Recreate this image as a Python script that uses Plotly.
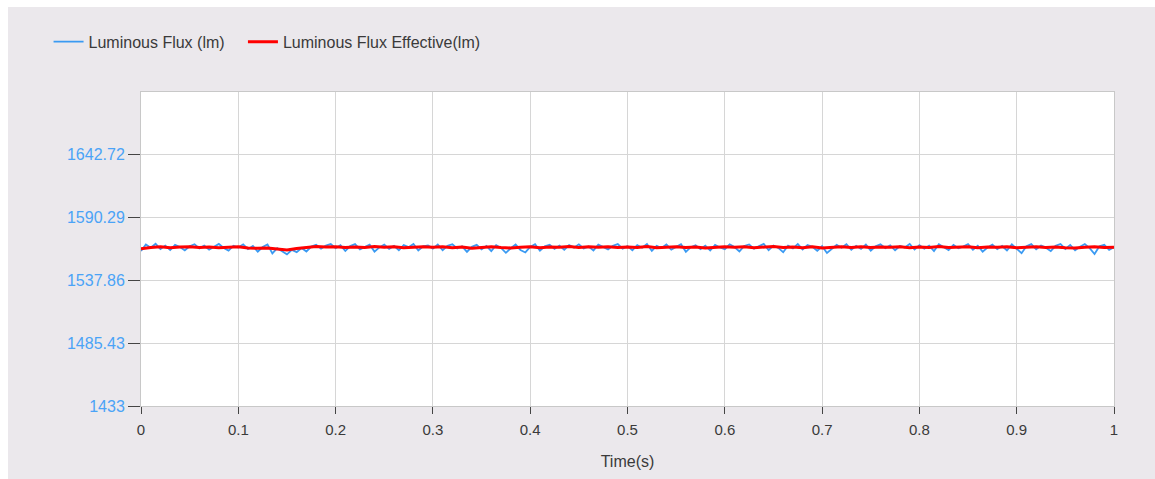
import numpy as np
import plotly.graph_objects as go

# ---- data ----
flux = [
    1562.5, 1567.8, 1565.1, 1568.4, 1564.0, 1566.9, 1563.2, 1567.5, 1565.8, 1562.9, 1566.4, 1568.1, 1564.6, 1567.0, 1563.5, 1566.2, 1568.3, 1564.9, 1562.7, 1566.8,
    1565.3, 1568.0, 1563.9, 1566.6, 1561.8, 1565.7, 1567.9, 1560.4, 1564.8, 1562.2, 1559.6, 1563.4, 1561.5, 1564.9, 1562.0, 1566.1, 1567.6, 1564.3, 1566.9, 1568.2,
    1564.7, 1567.3, 1562.4, 1566.5, 1568.1, 1563.8, 1566.0, 1567.7, 1561.9, 1565.4, 1567.8, 1564.2, 1566.7, 1563.0, 1567.4, 1565.6, 1568.3, 1562.8, 1566.3, 1567.1,
    1564.4, 1567.9, 1563.1, 1566.8, 1568.0, 1564.5, 1566.2, 1561.6, 1565.9, 1567.5, 1563.7, 1566.6, 1562.3, 1567.2, 1565.0, 1560.9, 1564.7, 1567.8, 1563.3, 1561.2,
    1565.8, 1568.1, 1562.6, 1566.4, 1567.6, 1564.1, 1566.9, 1563.5, 1567.3, 1565.2, 1568.0, 1564.6, 1566.1, 1562.9, 1567.7, 1565.5, 1563.8, 1566.8, 1568.2, 1564.3,
    1566.5, 1563.0, 1567.4, 1565.1, 1568.3, 1562.5, 1566.7, 1564.9, 1567.8, 1563.6, 1566.0, 1568.1, 1561.7, 1565.6, 1567.2, 1564.0, 1566.9, 1562.8, 1567.5, 1565.3,
    1563.9, 1568.0, 1565.7, 1562.1, 1566.6, 1567.9, 1564.4, 1566.2, 1568.4, 1563.2, 1567.0, 1565.0, 1561.4, 1566.8, 1564.6, 1568.2, 1563.7, 1567.3, 1565.9, 1562.6,
    1566.4, 1560.8, 1564.5, 1567.6, 1565.2, 1568.1, 1563.4, 1566.7, 1564.1, 1567.8, 1562.7, 1566.3, 1568.0, 1564.8, 1567.1, 1563.0, 1566.5, 1565.4, 1568.3, 1563.6,
    1567.2, 1564.3, 1566.9, 1562.4, 1568.0, 1565.6, 1563.1, 1567.4, 1564.7, 1566.1, 1568.2, 1563.5, 1566.8, 1561.9, 1565.3, 1567.7, 1564.0, 1566.6, 1562.8, 1567.9,
    1564.5, 1560.6, 1566.3, 1568.1, 1563.8, 1567.0, 1565.2, 1562.3, 1566.7, 1568.3, 1564.1, 1567.5, 1563.0, 1566.0, 1568.2, 1564.8, 1559.9, 1566.4, 1567.6, 1563.3,
    1565.5,
]
flux_eff = [
    1564.2, 1565.4, 1565.9, 1565.1, 1565.7, 1566.0, 1565.3, 1565.8, 1565.2, 1565.6,
    1565.9, 1565.0, 1564.6, 1564.9, 1563.8, 1563.2, 1564.5, 1565.6, 1566.1, 1565.7,
    1566.0, 1565.4, 1565.8, 1565.3, 1566.1, 1565.6, 1565.9, 1565.2, 1565.7, 1566.0,
    1565.5, 1565.9, 1565.1, 1565.7, 1564.8, 1565.4, 1566.0, 1565.3, 1564.9, 1565.6,
    1566.0, 1565.2, 1565.8, 1565.5, 1566.1, 1565.4, 1565.9, 1565.6, 1566.0, 1565.3,
    1565.8, 1565.4, 1566.1, 1565.2, 1565.7, 1565.9, 1565.3, 1565.8, 1565.0, 1565.6,
    1566.0, 1565.5, 1565.9, 1565.2, 1565.8, 1566.1, 1565.4, 1565.7, 1565.1, 1565.9,
    1565.0, 1565.6, 1566.0, 1565.4, 1565.9, 1565.3, 1565.8, 1565.5, 1566.0, 1565.2,
    1565.8, 1565.4, 1566.1, 1565.3, 1565.7, 1565.9, 1565.2, 1565.8, 1565.5, 1566.0,
    1565.1, 1565.6, 1566.0, 1565.4, 1565.8, 1565.2, 1564.9, 1565.5, 1565.9, 1565.3,
    1565.6,
]
t_flux = np.linspace(0, 1, len(flux))
t_eff = np.linspace(0, 1, len(flux_eff))

series_names = ["Luminous Flux (lm)", "Luminous Flux Effective(lm)"]
y_tickvals = [1433, 1485.43, 1537.86, 1590.29, 1642.72]
y_ticktext = ["1433", "1485.43", "1537.86", "1590.29", "1642.72"]
x_tickvals = [0, 0.1, 0.2, 0.3, 0.4, 0.5, 0.6, 0.7, 0.8, 0.9, 1]
x_ticktext = ["0", "0.1", "0.2", "0.3", "0.4", "0.5", "0.6", "0.7", "0.8", "0.9", "1"]

FONT = "Liberation Sans, Arial, sans-serif"
GRAY_BG = "#ebe8ec"
PAD = "\u00a0\u00a0\u00a0"

fig = go.Figure()
fig.add_trace(go.Scatter(x=t_flux, y=flux, mode="lines", name=series_names[0] + PAD,
                         line=dict(color="#3a9af2", width=1.8)))
fig.add_trace(go.Scatter(x=t_eff, y=flux_eff, mode="lines", name=series_names[1],
                         line=dict(color="#ff0000", width=3)))

fig.update_layout(
    width=1155, height=479,
    margin=dict(l=141, r=41, t=92, b=73),
    paper_bgcolor=GRAY_BG,
    plot_bgcolor="white",
    font=dict(family=FONT, size=16, color="#3a3a3a"),
    showlegend=True,
    legend=dict(orientation="h", x=-0.095, y=1.16, xanchor="left", yanchor="middle",
                bgcolor="rgba(0,0,0,0)", font=dict(size=16, color="#3a3a3a"),
                itemwidth=30, tracegroupgap=0),
    xaxis=dict(range=[0, 1], tickvals=x_tickvals, ticktext=x_ticktext,
               showgrid=True, gridcolor="#d6d6d6", gridwidth=1,
               ticks="outside", ticklen=7, tickcolor="#444444",
               showline=True, linecolor="#c8c8c8", linewidth=1, mirror=True,
               zeroline=False, tickfont=dict(size=15, color="#3a3a3a"),
               ticklabelstandoff=3,
               title=dict(text="Time(s)", font=dict(size=16, color="#3a3a3a"), standoff=18)),
    yaxis=dict(range=[1433, 1695.15], tickvals=y_tickvals, ticktext=y_ticktext,
               showgrid=True, gridcolor="#d6d6d6", gridwidth=1,
               ticks="outside", ticklen=12, tickcolor="#444444",
               showline=True, linecolor="#c8c8c8", linewidth=1, mirror=True,
               zeroline=False, tickfont=dict(size=16, color="#4aa3f7")),
    shapes=[
        dict(type="rect", xref="paper", yref="paper", x0=-0.2, x1=1.2, y0=(406 - 7) / 314, y1=1.4,
             fillcolor="white", line=dict(width=0), layer="below"),
        dict(type="rect", xref="paper", yref="paper", x0=-0.2, x1=(8 - 141) / 973, y0=-0.4, y1=1.4,
             fillcolor="white", line=dict(width=0), layer="below"),
    ],
)

fig.write_html("out.html")
